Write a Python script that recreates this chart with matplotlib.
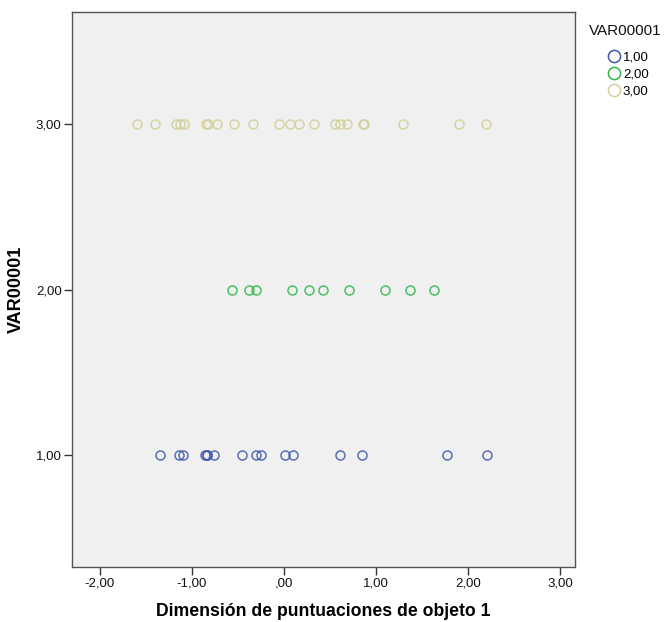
import matplotlib
matplotlib.use("Agg")
import matplotlib.pyplot as plt
from matplotlib.ticker import FuncFormatter

plt.rcParams['font.family'] = ['Liberation Sans', 'DejaVu Sans']

categories = ["1,00", "2,00", "3,00"]
group_y = [1.0, 2.0, 3.0]
x_group1 = [-1.35, -1.14, -1.09, -0.86, -0.84, -0.83, -0.76, -0.46, -0.30, -0.25,
            0.01, 0.10, 0.61, 0.85, 1.77, 2.20]
x_group2 = [-0.56, -0.38, -0.30, 0.09, 0.27, 0.43, 0.71, 1.10, 1.37, 1.63]
x_group3 = [-1.59, -1.40, -1.17, -1.13, -1.08, -0.85, -0.82, -0.73, -0.54, -0.34,
            -0.05, 0.07, 0.16, 0.33, 0.55, 0.61, 0.69, 0.86, 0.87, 1.29, 1.90, 2.19]
colors = ["#3E58AC", "#2EB848", "#D3CE97"]
x_ticks = [-2, -1, 0, 1, 2, 3]
y_ticks = [1, 2, 3]

fig = plt.figure(figsize=(6.68, 6.22), dpi=100)
ax = fig.add_axes([72/668, 1-567/622, (575-72)/668, (567-12)/622])
ax.set_facecolor("#F0F0F0")

for xs, yv, c, lab in zip([x_group1, x_group2, x_group3], group_y, colors, categories):
    ax.plot(xs, [yv]*len(xs), linestyle='none', marker='o', markersize=6.5,
            markerfacecolor='none', markeredgecolor=c, markeredgewidth=1.1,
            alpha=0.85, label=lab)

ax.set_xlim(-2.30, 3.16)
ax.set_ylim(0.32, 3.68)
ax.set_xticks(x_ticks)
ax.set_yticks(y_ticks)

def fmt(v, pos):
    s = f"{v:.2f}".replace(".", ",")
    if s.startswith("0,"):
        s = s[1:]
    elif s.startswith("-0,"):
        s = "-" + s[2:]
    return s

ax.xaxis.set_major_formatter(FuncFormatter(fmt))
ax.yaxis.set_major_formatter(FuncFormatter(fmt))
ax.tick_params(axis='both', direction='out', length=6, width=1, color='#333333',
               labelsize=9.5, labelcolor='#111111', pad=1.5)
for s in ax.spines.values():
    s.set_color('#555555')
    s.set_linewidth(1)

ax.set_xlabel("Dimensión de puntuaciones de objeto 1", fontsize=12.7,
              fontweight='bold', labelpad=10)
ax.set_ylabel("VAR00001", fontsize=13, fontweight='bold', labelpad=7.5)

fig.text(589/668, 1-31/622, "VAR00001", fontsize=11, va='center', ha='left',
         color='#111111')
leg = ax.legend(loc='upper left', bbox_to_anchor=(607/668, 1-51/622),
                bbox_transform=fig.transFigure, frameon=False, fontsize=9.5,
                handletextpad=0.2, borderpad=0, labelspacing=0.38,
                handlelength=1.0, markerscale=1.35, borderaxespad=0)
for h in leg.legend_handles:
    h.set_alpha(1)

fig.savefig("out.png", dpi=100)
